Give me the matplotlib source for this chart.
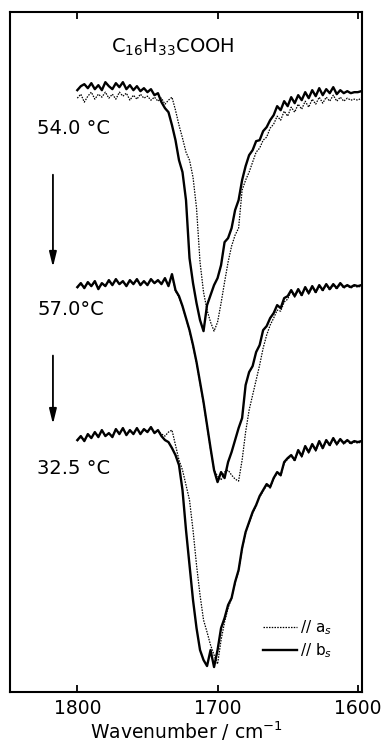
import numpy as np
import matplotlib.pyplot as plt
from matplotlib.lines import Line2D

# wavenumber grid, 2.5 cm-1 steps from 1800 down to 1597.5
wavenumber = 1800 - 2.5 * np.arange(82)

# absorbance-like readings (arbitrary units, plotted on an inverted axis)
t54_b = [90, 86, 84, 88, 83, 89, 85, 90, 82, 86, 89, 83, 87, 82, 89, 85, 90, 86, 91, 88,
         92, 89, 95, 93, 102, 108, 112,
         125, 140, 160, 172, 200, 258, 283, 303, 320, 331,
         305, 295, 285, 278, 265, 242, 238, 228, 210, 200,
         180, 166, 155, 150, 141, 140, 131, 127, 120, 115,
         106, 110, 101, 106, 97, 103, 95, 100, 92, 98,
         90, 96, 88, 95, 89, 93, 87, 94, 90, 93,
         91, 93, 92, 92, 91]
t54_a = [98, 94, 102, 96, 92, 99, 94, 97, 92, 98, 94, 99, 92, 96, 93, 100, 95, 99, 94, 98,
         96, 100, 97, 101, 98, 104, 100, 97, 110,
         125, 138, 152, 160, 177, 208, 262, 292, 310, 322,
         331, 322, 303, 282, 262, 246, 235, 228, 190, 180,
         172, 162, 152, 148, 140, 137, 128, 124, 116, 120,
         111, 116, 107, 112, 104, 109, 101, 107, 99, 104,
         97, 103, 97, 101, 95, 101, 97, 101, 98, 100,
         99, 100, 98]

t57_b = [287, 283, 288, 282, 286, 281, 289, 283, 286, 280, 285, 279, 284, 281, 286, 280,
         284, 279, 285, 281, 285, 279, 283, 280, 284, 278, 286, 274, 290,
         296, 306, 318, 330, 345, 362, 382, 402, 425, 448,
         470, 482, 472, 478, 462, 452, 440, 428, 418, 385,
         372, 366, 352, 345, 330, 326, 318, 313, 305, 308,
         298, 296, 290, 296, 289, 295, 287, 293, 286, 292,
         285, 290, 284, 289, 284, 288, 283, 287, 285, 287,
         285, 286, 285]
t57_a = [288, 284, 287, 283, 286, 282, 288, 284, 285, 281, 285, 280, 284, 282, 285, 281,
         284, 280, 284, 282, 284, 280, 283, 281, 283, 279, 285, 276, 291,
         297, 307, 318, 331, 346, 363, 383, 403, 426, 449,
         470, 476, 480, 472, 470, 475, 479, 481, 460, 432,
         410, 395, 380, 365, 348, 335, 325, 318, 310, 311,
         302, 299, 291, 297, 290, 296, 288, 294, 287, 293,
         286, 291, 285, 290, 285, 289, 284, 288, 286, 288,
         286, 287, 286]

t32_b = [440, 436, 441, 434, 438, 432, 437, 430, 436, 433, 437, 429, 434, 428, 435, 430,
         434, 428, 434, 429, 432, 427, 433, 430, 436, 440, 442, 448,
         455, 465, 490, 530, 565, 600, 628, 650, 660, 666,
         650, 667, 650, 628, 618, 605, 598, 582, 570, 548,
         532, 522, 512, 505, 496, 490, 484, 487, 478, 472,
         475, 462, 458, 455, 460, 450, 456, 446, 452, 444,
         450, 441, 448, 440, 445, 438, 444, 439, 443, 440,
         443, 441, 442, 441]
t32_a = [441, 437, 440, 435, 437, 433, 436, 431, 435, 434, 436, 430, 433, 429, 434, 431,
         433, 429, 433, 430, 431, 428, 432, 431, 434,
         436, 432, 430, 445, 460, 470, 485, 500, 530, 565,
         595, 620, 632, 645, 655, 664, 640, 622, 608, 598,
         583, 571, 549, 533, 523, 513, 506, 497, 491, 485,
         488, 479, 473, 476, 463, 459, 456, 461, 451, 457,
         447, 453, 445, 451, 442, 449, 441, 446, 439, 445,
         440, 444, 441, 444, 442, 443, 442]

temps = ["54.0 °C", "57.0°C", "32.5 °C"]
temp_y = [0.829, 0.563, 0.329]

fig = plt.figure(figsize=(3.92, 7.43), dpi=100)
ax = fig.add_axes([0.0255, 0.0686, 0.898, 0.915])

dot = dict(color="black", lw=0.9, linestyle=(0, (1.2, 1.0)))
sol = dict(color="black", lw=1.7)
for a, b in [(t54_a, t54_b), (t57_a, t57_b), (t32_a, t32_b)]:
    ax.plot(wavenumber, a, **dot)
    ax.plot(wavenumber, b, **sol)

ax.set_xlim(1848, 1597)
ax.set_ylim(692, 12)
ax.set_yticks([])
ax.set_xticks([1800, 1700, 1600])
ax.tick_params(axis="x", direction="in", top=True, length=5, width=1.3,
               labelsize=13.5, pad=5)
for s in ax.spines.values():
    s.set_linewidth(1.5)
ax.set_xlabel("Wavenumber / cm$^{-1}$", fontsize=13.5, labelpad=1)

ax.text(0.463, 0.949, r"C$_{16}$H$_{33}$COOH", transform=ax.transAxes,
        ha="center", va="center", fontsize=14)
for t, y in zip(temps, temp_y):
    ax.text(0.077, y, t, transform=ax.transAxes, ha="left", va="center", fontsize=14)

# arrows between the temperature steps
for y0, y1 in [(0.765, 0.621), (0.499, 0.390)]:
    ax.annotate("", xy=(0.122, y1), xytext=(0.122, y0), xycoords="axes fraction",
                arrowprops=dict(arrowstyle="-|>,head_length=0.9,head_width=0.22",
                                color="black", lw=1.3))

handles = [Line2D([], [], **dot), Line2D([], [], **sol)]
ax.legend(handles, ["// a$_s$", "// b$_s$"], loc="lower left",
          bbox_to_anchor=(0.719, 0.047), frameon=False, fontsize=11,
          borderpad=0, borderaxespad=0, handlelength=2.2,
          handletextpad=0.2, labelspacing=0.27)

fig.savefig("out.png", dpi=100)
